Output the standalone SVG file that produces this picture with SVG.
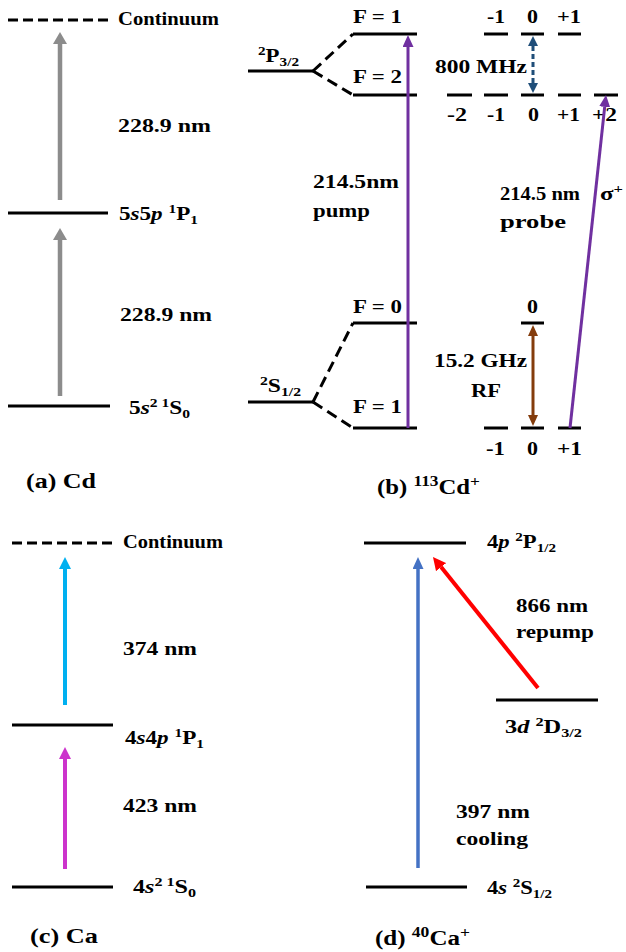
<svg xmlns="http://www.w3.org/2000/svg" width="626" height="952" viewBox="0 0 626 952">
<style>
.t{font-family:"Liberation Serif","Times New Roman",serif;font-weight:bold;font-size:18px;fill:#000}
.cap{font-size:20px}
.i{font-style:italic}
.lvl{stroke:#000;stroke-width:3;fill:none}
.dl{stroke:#000;stroke-width:3;fill:none;stroke-dasharray:10 5}
.sd{stroke:#000;stroke-width:3;fill:none;stroke-dasharray:11 6}
</style>
<defs>
<marker id="mg" viewBox="0 0 12 14" refX="0" refY="7" markerWidth="12" markerHeight="14" markerUnits="userSpaceOnUse" orient="auto"><path d="M0,0 L12,7 L0,14 z" fill="#8c8c8c"/></marker>
<marker id="mp" viewBox="0 0 12 11" refX="0" refY="5.5" markerWidth="12" markerHeight="11" markerUnits="userSpaceOnUse" orient="auto"><path d="M0,0 L12,5.5 L0,11 z" fill="#7030a0"/></marker>
<marker id="mb" viewBox="0 0 10 10" refX="0" refY="5" markerWidth="10" markerHeight="10" markerUnits="userSpaceOnUse" orient="auto-start-reverse"><path d="M0,0 L10,5 L0,10 z" fill="#1f4e79"/></marker>
<marker id="mr" viewBox="0 0 11 10" refX="0" refY="5" markerWidth="11" markerHeight="10" markerUnits="userSpaceOnUse" orient="auto-start-reverse"><path d="M0,0 L11,5 L0,10 z" fill="#843c0c"/></marker>
<marker id="mc" viewBox="0 0 12 12" refX="0" refY="6" markerWidth="12" markerHeight="12" markerUnits="userSpaceOnUse" orient="auto"><path d="M0,0 L12,6 L0,12 z" fill="#00b0f0"/></marker>
<marker id="mm" viewBox="0 0 12 12" refX="0" refY="6" markerWidth="12" markerHeight="12" markerUnits="userSpaceOnUse" orient="auto"><path d="M0,0 L12,6 L0,12 z" fill="#cc33cc"/></marker>
<marker id="ml" viewBox="0 0 12 11" refX="0" refY="5.5" markerWidth="12" markerHeight="11" markerUnits="userSpaceOnUse" orient="auto"><path d="M0,0 L12,5.5 L0,11 z" fill="#4472c4"/></marker>
<marker id="mred" viewBox="0 0 13 13" refX="0" refY="6.5" markerWidth="13" markerHeight="13" markerUnits="userSpaceOnUse" orient="auto"><path d="M0,0 L13,6.5 L0,13 z" fill="#ff0000"/></marker>
</defs>

<!-- Panel (a) Cd -->
<g id="a-continuum"><line class="dl" x1="8" y1="20" x2="108" y2="20"/><text class="t" x="118" y="25" textLength="101" lengthAdjust="spacingAndGlyphs">Continuum</text></g>
<g id="a-5s5p"><line class="lvl" x1="8" y1="213" x2="108" y2="213"/><text class="t" x="119" y="220" textLength="79" lengthAdjust="spacingAndGlyphs">5<tspan class="i">s</tspan>5<tspan class="i">p</tspan> <tspan font-size="12" dy="-7">1</tspan><tspan dy="7">P</tspan><tspan font-size="12" dy="4">1</tspan></text></g>
<g id="a-5s2"><line class="lvl" x1="8" y1="406" x2="110" y2="406"/><text class="t" x="129" y="414" textLength="61" lengthAdjust="spacingAndGlyphs">5<tspan class="i">s</tspan><tspan font-size="12" dy="-7">2</tspan><tspan font-size="12"> 1</tspan><tspan dy="7">S</tspan><tspan font-size="12" dy="4">0</tspan></text></g>
<g id="a-labels"><text class="t" x="118" y="132" textLength="93" lengthAdjust="spacingAndGlyphs">228.9 nm</text><text class="t" x="120" y="321" textLength="92" lengthAdjust="spacingAndGlyphs">228.9 nm</text><text class="t cap" x="26" y="488" textLength="70" lengthAdjust="spacingAndGlyphs">(a) Cd</text></g>

<!-- Panel (b) 113Cd+ -->
<g id="b-P32"><line class="lvl" x1="248" y1="71" x2="313" y2="71"/><text class="t" x="258" y="62" textLength="41" lengthAdjust="spacingAndGlyphs"><tspan font-size="12" dy="-7">2</tspan><tspan dy="7">P</tspan><tspan font-size="12" dy="4">3/2</tspan></text></g>
<g id="b-F1P"><line class="lvl" x1="353" y1="34" x2="417" y2="34"/><text class="t" x="353" y="23" textLength="49" lengthAdjust="spacingAndGlyphs">F = 1</text></g>
<g id="b-F2P"><line class="lvl" x1="353" y1="95" x2="417" y2="95"/><text class="t" x="353" y="83" textLength="49" lengthAdjust="spacingAndGlyphs">F = 2</text></g>
<g id="b-S12"><line class="lvl" x1="248" y1="402" x2="313" y2="402"/><text class="t" x="260" y="392" textLength="41" lengthAdjust="spacingAndGlyphs"><tspan font-size="12" dy="-7">2</tspan><tspan dy="7">S</tspan><tspan font-size="12" dy="4">1/2</tspan></text></g>
<g id="b-F0S"><line class="lvl" x1="353" y1="323" x2="417" y2="323"/><text class="t" x="353" y="313" textLength="49" lengthAdjust="spacingAndGlyphs">F = 0</text></g>
<g id="b-F1S"><line class="lvl" x1="353" y1="428" x2="417" y2="428"/><text class="t" x="353" y="413" textLength="49" lengthAdjust="spacingAndGlyphs">F = 1</text></g>
<g id="b-zeeman-P-F1">
<line class="lvl" x1="484" y1="34" x2="508" y2="34"/><line class="lvl" x1="521" y1="34" x2="544" y2="34"/><line class="lvl" x1="558" y1="34" x2="581" y2="34"/>
<text class="t" x="487" y="23" textLength="18" lengthAdjust="spacingAndGlyphs">-1</text><text class="t" x="527" y="23" textLength="11" lengthAdjust="spacingAndGlyphs">0</text><text class="t" x="557" y="23" textLength="24" lengthAdjust="spacingAndGlyphs">+1</text>
</g>
<g id="b-zeeman-P-F2">
<line class="lvl" x1="447" y1="95" x2="472" y2="95"/><line class="lvl" x1="484" y1="95" x2="508" y2="95"/><line class="lvl" x1="521" y1="95" x2="544" y2="95"/><line class="lvl" x1="558" y1="95" x2="581" y2="95"/><line class="lvl" x1="594" y1="95" x2="618" y2="95"/>
<text class="t" x="447" y="121" textLength="20" lengthAdjust="spacingAndGlyphs">-2</text><text class="t" x="487" y="121" textLength="18" lengthAdjust="spacingAndGlyphs">-1</text><text class="t" x="528" y="121" textLength="11" lengthAdjust="spacingAndGlyphs">0</text><text class="t" x="557" y="121" textLength="23" lengthAdjust="spacingAndGlyphs">+1</text><text class="t" x="592" y="121" textLength="25" lengthAdjust="spacingAndGlyphs">+2</text>
</g>
<g id="b-zeeman-S-F0"><line class="lvl" x1="521" y1="323" x2="544" y2="323"/><text class="t" x="527" y="313" textLength="11" lengthAdjust="spacingAndGlyphs">0</text></g>
<g id="b-zeeman-S-F1">
<line class="lvl" x1="484" y1="428" x2="508" y2="428"/><line class="lvl" x1="521" y1="428" x2="544" y2="428"/><line class="lvl" x1="558" y1="428" x2="581" y2="428"/>
<text class="t" x="486" y="455" textLength="19" lengthAdjust="spacingAndGlyphs">-1</text><text class="t" x="527" y="455" textLength="11" lengthAdjust="spacingAndGlyphs">0</text><text class="t" x="557" y="455" textLength="25" lengthAdjust="spacingAndGlyphs">+1</text>
</g>
<g id="b-labels">
<text class="t" x="313" y="188" textLength="86" lengthAdjust="spacingAndGlyphs">214.5nm</text><text class="t" x="313" y="217" textLength="57" lengthAdjust="spacingAndGlyphs">pump</text>
<text class="t" x="500" y="200" textLength="80" lengthAdjust="spacingAndGlyphs">214.5 nm</text><text class="t" x="600" y="200" textLength="23" lengthAdjust="spacingAndGlyphs">σ<tspan font-size="12" dy="-7">+</tspan></text><text class="t" x="500" y="228" textLength="66" lengthAdjust="spacingAndGlyphs">probe</text>
<text class="t" x="435" y="73" textLength="92" lengthAdjust="spacingAndGlyphs">800 MHz</text>
<text class="t" x="434" y="367" textLength="93" lengthAdjust="spacingAndGlyphs">15.2 GHz</text><text class="t" x="471" y="397" textLength="30" lengthAdjust="spacingAndGlyphs">RF</text>
<text class="t cap" x="377" y="494" textLength="103" lengthAdjust="spacingAndGlyphs">(b) <tspan font-size="14" dy="-8">113</tspan><tspan dy="8">Cd</tspan><tspan font-size="14" dy="-8">+</tspan></text>
</g>

<!-- Panel (c) Ca -->
<g id="c-continuum"><line class="dl" x1="12" y1="543" x2="113" y2="543"/><text class="t" x="123" y="548" textLength="100" lengthAdjust="spacingAndGlyphs">Continuum</text></g>
<g id="c-4s4p"><line class="lvl" x1="12" y1="725" x2="113" y2="725"/><text class="t" x="125" y="744" textLength="79" lengthAdjust="spacingAndGlyphs">4<tspan class="i">s</tspan>4<tspan class="i">p</tspan> <tspan font-size="12" dy="-7">1</tspan><tspan dy="7">P</tspan><tspan font-size="12" dy="4">1</tspan></text></g>
<g id="c-4s2"><line class="lvl" x1="12" y1="887" x2="113" y2="887"/><text class="t" x="133" y="893" textLength="63" lengthAdjust="spacingAndGlyphs">4<tspan class="i">s</tspan><tspan font-size="12" dy="-7">2</tspan><tspan font-size="12"> 1</tspan><tspan dy="7">S</tspan><tspan font-size="12" dy="4">0</tspan></text></g>
<g id="c-labels"><text class="t" x="123" y="655" textLength="74" lengthAdjust="spacingAndGlyphs">374 nm</text><text class="t" x="123" y="812" textLength="74" lengthAdjust="spacingAndGlyphs">423 nm</text><text class="t cap" x="30" y="943" textLength="68" lengthAdjust="spacingAndGlyphs">(c) Ca</text></g>

<!-- Panel (d) 40Ca+ -->
<g id="d-4p"><line class="lvl" x1="364" y1="543" x2="466" y2="543"/><text class="t" x="487" y="548" textLength="69" lengthAdjust="spacingAndGlyphs">4<tspan class="i">p</tspan> <tspan font-size="12" dy="-7">2</tspan><tspan dy="7">P</tspan><tspan font-size="12" dy="4">1/2</tspan></text></g>
<g id="d-3d"><line class="lvl" x1="496" y1="700" x2="598" y2="700"/><text class="t" x="505" y="733" textLength="77" lengthAdjust="spacingAndGlyphs">3<tspan class="i">d</tspan>  <tspan font-size="12" dy="-7">2</tspan><tspan dy="7">D</tspan><tspan font-size="12" dy="4">3/2</tspan></text></g>
<g id="d-4s"><line class="lvl" x1="366" y1="887" x2="467" y2="887"/><text class="t" x="487" y="894" textLength="65" lengthAdjust="spacingAndGlyphs">4<tspan class="i">s</tspan> <tspan font-size="12" dy="-7">2</tspan><tspan dy="7">S</tspan><tspan font-size="12" dy="4">1/2</tspan></text></g>
<g id="d-labels"><text class="t" x="516" y="612" textLength="72" lengthAdjust="spacingAndGlyphs">866 nm</text><text class="t" x="516" y="638" textLength="78" lengthAdjust="spacingAndGlyphs">repump</text><text class="t" x="456" y="818" textLength="74" lengthAdjust="spacingAndGlyphs">397 nm</text><text class="t" x="456" y="845" textLength="72" lengthAdjust="spacingAndGlyphs">cooling</text><text class="t cap" x="375" y="945" textLength="95" lengthAdjust="spacingAndGlyphs">(d) <tspan font-size="14" dy="-8">40</tspan><tspan dy="8">Ca</tspan><tspan font-size="14" dy="-8">+</tspan></text></g>

<!-- Connectors -->
<g id="connectors">
<path class="sd" d="M313,71 L353,34 M313,71 L353,95 M313,402 L353,323 M313,402 L353,428"/>
<line x1="60" y1="200" x2="60" y2="44" stroke="#8c8c8c" stroke-width="4.5" marker-end="url(#mg)"/>
<line x1="60" y1="396" x2="60" y2="240" stroke="#8c8c8c" stroke-width="4.5" marker-end="url(#mg)"/>
<line x1="408" y1="428" x2="408" y2="47" stroke="#7030a0" stroke-width="3" marker-end="url(#mp)"/>
<line x1="570" y1="428" x2="604.7" y2="106.9" stroke="#7030a0" stroke-width="3" marker-end="url(#mp)"/>
<line x1="533" y1="46" x2="533" y2="83" stroke="#1f4e79" stroke-width="3" stroke-dasharray="5 3" marker-start="url(#mb)" marker-end="url(#mb)"/>
<line x1="533" y1="336" x2="533" y2="415" stroke="#843c0c" stroke-width="3" marker-start="url(#mr)" marker-end="url(#mr)"/>
<line x1="65" y1="705" x2="65" y2="569" stroke="#00b0f0" stroke-width="4" marker-end="url(#mc)"/>
<line x1="65" y1="869" x2="65" y2="759" stroke="#cc33cc" stroke-width="4" marker-end="url(#mm)"/>
<line x1="418" y1="868" x2="418" y2="569" stroke="#4472c4" stroke-width="3.5" marker-end="url(#ml)"/>
<line x1="538" y1="688" x2="441.1" y2="567.1" stroke="#ff0000" stroke-width="4" marker-end="url(#mred)"/>
</g>
</svg>
